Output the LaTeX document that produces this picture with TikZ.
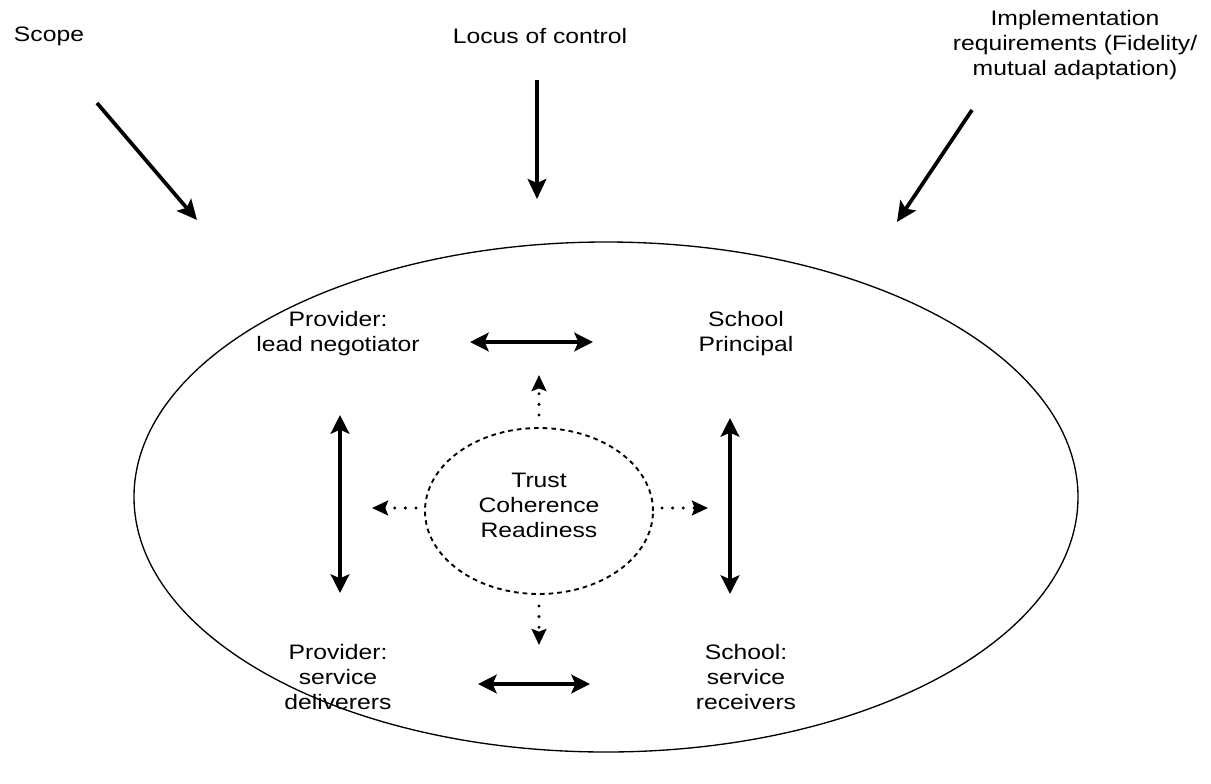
\documentclass[tikz,border=0pt]{standalone}
\usepackage{fontspec}
\setmainfont{Liberation Sans}[FakeStretch=1.18]
\usetikzlibrary{arrows.meta,shapes.geometric}
\begin{document}
\begin{tikzpicture}[x=0.75pt,y=-0.75pt,
  lbl/.style={font=\fontsize{15.7}{18.75}\selectfont,align=center,inner sep=0pt},
  bigarrow/.style={line width=2.8pt,-{Stealth[length=15pt,width=14pt,inset=3pt]}},
  dblarrow/.style={line width=2.5pt,{Stealth[length=14pt,width=14pt,inset=3pt]}-{Stealth[length=14pt,width=14pt,inset=3pt]}},
  dotarrow/.style={line width=2.5pt,dash pattern=on 0pt off 8pt,line cap=round,-{Stealth[length=12pt,width=11pt,inset=2pt,line cap=butt]}}]
\useasboundingbox (0,0) rectangle (1211,783);
\node[draw,ellipse,line width=1pt,minimum width=944*0.75pt,minimum height=510*0.75pt,inner sep=0pt] (outer) at (606,497) {};
\node[draw,ellipse,line width=1.4pt,dash pattern=on 3.5pt off 3pt,minimum width=228*0.75pt,minimum height=166*0.75pt,inner sep=0pt] (core) at (539,511) {};
\node[lbl] (coretext) at (539,505) {Trust\\Coherence\\Readiness};
\node[lbl] (scope) at (49,36) {Scope};
\node[lbl] (locus) at (540,36) {Locus of control};
\node[lbl] (impl) at (1075,45) {Implementation\\requirements (Fidelity/\\mutual adaptation)};
\node[lbl] (pl) at (338,334) {Provider:\\lead negotiator};
\node[lbl] (sp) at (746,334) {School\\Principal};
\node[lbl] (ps) at (338,677) {Provider:\\service\\deliverers};
\node[lbl] (sr) at (746,677) {School:\\service\\receivers};
\coordinate (s1) at (97,103); \coordinate (s2) at (197,220);
\coordinate (l1) at (537,80); \coordinate (l2) at (537,199);
\coordinate (i1) at (972,110); \coordinate (i2) at (897,222);
\draw[bigarrow] (s1) -- (s2);
\draw[bigarrow] (l1) -- (l2);
\draw[bigarrow] (i1) -- (i2);
\coordinate (ht1) at (470,342); \coordinate (ht2) at (593,342);
\coordinate (hb1) at (478,684); \coordinate (hb2) at (590,684);
\coordinate (vl1) at (340,415); \coordinate (vl2) at (340,593);
\coordinate (vr1) at (730,418); \coordinate (vr2) at (730,594);
\draw[dblarrow] (ht1) -- (ht2);
\draw[dblarrow] (hb1) -- (hb2);
\draw[dblarrow] (vl1) -- (vl2);
\draw[dblarrow] (vr1) -- (vr2);
\coordinate (du) at (539,375); \coordinate (dd) at (539,645);
\coordinate (dl) at (372,508); \coordinate (dr) at (708,508);
\draw[dotarrow] (core.north) ++(0,-12) -- (du);
\draw[dotarrow] (core.south) ++(0,11) -- (dd);
\draw[dotarrow] (core.west) ++(-8,-3) -- (dl);
\draw[dotarrow] (core.east) ++(8,-3) -- (dr);
\end{tikzpicture}
\end{document}
